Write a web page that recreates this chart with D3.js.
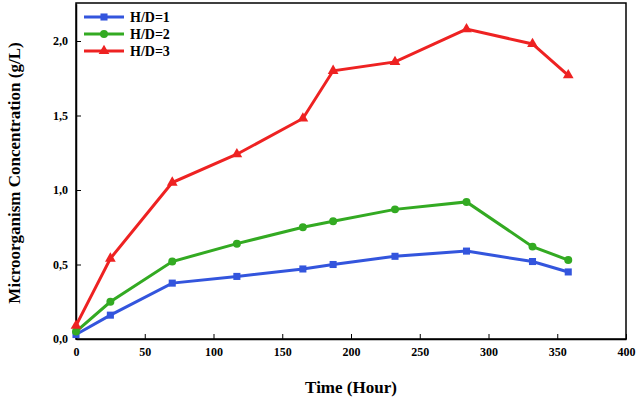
<!DOCTYPE html>
<html><head><meta charset="utf-8">
<script src="https://cdn.jsdelivr.net/npm/d3@7"></script>
<style>body{margin:0;background:#fff}text{font-family:"Liberation Serif",serif;font-weight:bold}</style>
</head><body><div id="chart"></div>
<script>
var hours = [0, 25, 70, 117, 165, 187, 232, 284, 332, 358];
var hd1 = [0.03, 0.16, 0.375, 0.42, 0.47, 0.50, 0.555, 0.59, 0.52, 0.45];
var hd2 = [0.05, 0.25, 0.52, 0.64, 0.75, 0.79, 0.87, 0.92, 0.62, 0.53];
var hd3 = [0.09, 0.54, 1.05, 1.24, 1.48, 1.80, 1.86, 2.08, 1.98, 1.77];
var seriesNames = ["H/D=1", "H/D=2", "H/D=3"];
var xTicks = [0, 50, 100, 150, 200, 250, 300, 350, 400];
var yTicks = [0, 0.5, 1.0, 1.5, 2.0];

var svgWidth = 640, svgHeight = 406;
var margin = {top: 3, right: 14, bottom: 67, left: 76};
var chartWidth = svgWidth - margin.left - margin.right;
var chartHeight = svgHeight - margin.top - margin.bottom;

var svg = d3.select("#chart").append("svg")
  .attr("width", svgWidth).attr("height", svgHeight);
var g = svg.append("g").attr("transform", `translate(${margin.left},${margin.top})`);

var x = d3.scaleLinear().domain([0, 400]).range([0, 550]);
var y = d3.scaleLinear().domain([0, 2.25]).range([chartHeight, chartHeight - 2.25 * 149]);

var fmt = d => d3.format(".1f")(d).replace(".", ",");

g.append("rect").attr("width", chartWidth).attr("height", chartHeight)
  .attr("fill", "none").attr("stroke", "#000").attr("stroke-width", 1.5);

var xa = g.append("g").attr("transform", `translate(0,${chartHeight})`)
  .call(d3.axisBottom(x).tickValues(xTicks).tickSizeInner(-5).tickSizeOuter(0).tickPadding(8));
var ya = g.append("g")
  .call(d3.axisLeft(y).tickValues(yTicks).tickFormat(fmt).tickSizeInner(-5).tickSizeOuter(0).tickPadding(8));
[xa, ya].forEach(a => {
  a.select(".domain").attr("stroke-width", 1.5);
  a.selectAll("text").attr("font-size", 12).attr("fill", "#000");
});

var colors = ["#3355dd", "#33aa22", "#ee2222"];
var data = [hd1, hd2, hd3];
var line = d3.line().x((d, i) => x(hours[i])).y(d => y(d));

data.forEach((s, k) => {
  g.append("path").datum(s).attr("d", line).attr("fill", "none")
    .attr("stroke", colors[k]).attr("stroke-width", 3);
  var sym = [d3.symbolSquare, d3.symbolCircle, d3.symbolTriangle][k];
  g.selectAll(".m" + k).data(s).enter().append("path")
    .attr("transform", (d, i) => `translate(${x(hours[i])},${y(d)})`)
    .attr("d", d3.symbol().type(sym).size(50)).attr("fill", colors[k]);
});

var leg = g.append("g").attr("transform", "translate(8,14)");
seriesNames.forEach((n, k) => {
  var row = leg.append("g").attr("transform", `translate(0,${k * 17})`);
  row.append("line").attr("x1", 0).attr("x2", 40).attr("stroke", colors[k]).attr("stroke-width", 3);
  row.append("path").attr("transform", "translate(20,0)")
    .attr("d", d3.symbol().type([d3.symbolSquare, d3.symbolCircle, d3.symbolTriangle][k]).size(50))
    .attr("fill", colors[k]);
  row.append("text").attr("x", 46).attr("y", 5).attr("font-size", 14).text(n);
});

svg.append("text").attr("x", margin.left + chartWidth / 2).attr("y", 393)
  .attr("text-anchor", "middle").attr("font-size", 17).text("Time (Hour)");
svg.append("text").attr("transform", `translate(20,${margin.top + 170}) rotate(-90)`)
  .attr("text-anchor", "middle").attr("font-size", 17).text("Microorganism Concentration (g/L)");
</script></body></html>
